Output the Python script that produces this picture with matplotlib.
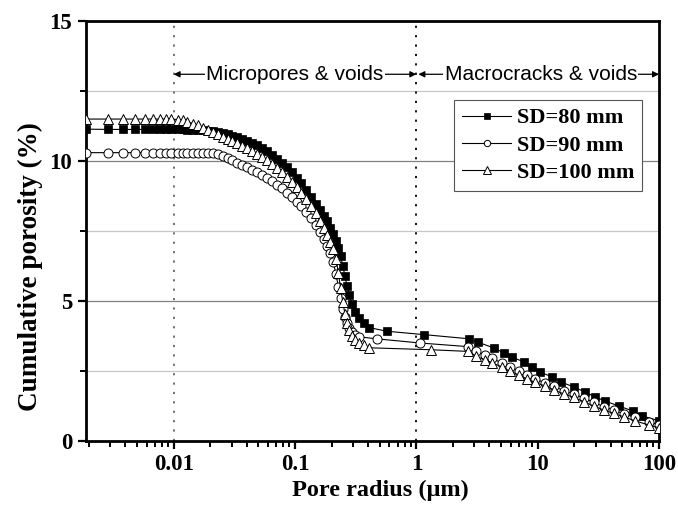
import numpy as np
import matplotlib.pyplot as plt
from matplotlib.ticker import FixedLocator, LogLocator, NullFormatter, FixedFormatter

# pore radius (um) and cumulative porosity (%)
r80 = [0.0019, 0.0029, 0.00386, 0.00485, 0.00576, 0.0067, 0.00766, 0.0086, 0.0096,
       0.0108, 0.0119, 0.013, 0.0144, 0.0158, 0.0174, 0.0191, 0.021, 0.023, 0.0253,
       0.0278, 0.0305, 0.0335, 0.0368, 0.0404, 0.0444, 0.0488, 0.0536, 0.0589, 0.0647,
       0.0711, 0.078, 0.0857, 0.0942, 0.103, 0.113, 0.124, 0.136, 0.148, 0.16, 0.172,
       0.184, 0.196, 0.207, 0.218, 0.228, 0.238, 0.248, 0.258, 0.268, 0.28, 0.295,
       0.315, 0.34, 0.37, 0.41, 0.575, 1.16, 2.74, 3.25, 4.33, 5.23, 6.1, 7.66, 8.9,
       10.4, 13.1, 15.5, 19.9, 24.5, 29.6, 35.8, 46.7, 61, 72.4, 100]
p80 = [11.14, 11.13, 11.13, 11.13, 11.13, 11.13, 11.13, 11.13, 11.13,
       11.13, 11.13, 11.12, 11.12, 11.11, 11.1, 11.08, 11.06, 11.03, 11.0,
       10.96, 10.91, 10.86, 10.8, 10.73, 10.65, 10.56, 10.46, 10.35, 10.22,
       10.08, 9.93, 9.77, 9.6, 9.41, 9.2, 8.97, 8.72, 8.47, 8.25, 8.05,
       7.85, 7.62, 7.4, 7.15, 6.9, 6.6, 6.25, 5.9, 5.55, 5.2, 4.9,
       4.6, 4.4, 4.2, 4.05, 3.92, 3.8, 3.65, 3.52, 3.33, 3.15, 3.0, 2.83, 2.65,
       2.47, 2.29, 2.11, 1.93, 1.75, 1.58, 1.43, 1.25, 1.07, 0.9, 0.72]

r90 = [0.0019, 0.0029, 0.00386, 0.00485, 0.00576, 0.0067, 0.00766, 0.0086, 0.0096,
       0.0108, 0.0119, 0.013, 0.0144, 0.0158, 0.0174, 0.0191, 0.021, 0.023, 0.0253,
       0.0278, 0.0305, 0.0335, 0.0368, 0.0404, 0.0444, 0.0488, 0.0536, 0.0589, 0.0647,
       0.0711, 0.078, 0.0857, 0.0942, 0.103, 0.113, 0.124, 0.136, 0.148, 0.16, 0.172,
       0.184, 0.196, 0.207, 0.218, 0.228, 0.238, 0.248, 0.258, 0.268, 0.28, 0.295,
       0.315, 0.34, 0.47, 1.08, 2.69, 3.13, 3.65, 4.17, 5.04, 5.87, 6.97, 8.11, 9.45,
       11.4, 13.6, 16.4, 19.9, 24.0, 29.0, 35.1, 42.5, 51.4, 63.4, 82.7, 100]
p90 = [10.3, 10.3, 10.3, 10.3, 10.3, 10.3, 10.3, 10.3, 10.3,
       10.3, 10.3, 10.3, 10.3, 10.3, 10.3, 10.29, 10.28, 10.25, 10.18,
       10.1, 10.02, 9.93, 9.85, 9.77, 9.69, 9.6, 9.5, 9.4, 9.28,
       9.15, 9.02, 8.87, 8.72, 8.55, 8.38, 8.18, 7.96, 7.72, 7.47, 7.22,
       6.96, 6.7, 6.38, 5.95, 5.5, 5.1, 4.72, 4.42, 4.2, 4.02, 3.9,
       3.8, 3.72, 3.65, 3.5, 3.37, 3.22, 3.08, 2.95, 2.8, 2.65, 2.5, 2.36, 2.22,
       2.08, 1.95, 1.8, 1.68, 1.53, 1.38, 1.23, 1.1, 0.97, 0.84, 0.68, 0.58]

r100 = [0.0019, 0.0029, 0.00386, 0.00485, 0.00576, 0.0067, 0.00766, 0.0086, 0.0096,
        0.0108, 0.0119, 0.013, 0.0144, 0.0158, 0.0174, 0.0191, 0.021, 0.023, 0.0253,
        0.0278, 0.0305, 0.0335, 0.0368, 0.0404, 0.0444, 0.0488, 0.0536, 0.0589, 0.0647,
        0.0711, 0.078, 0.0857, 0.0942, 0.103, 0.113, 0.124, 0.136, 0.148, 0.16, 0.172,
        0.184, 0.196, 0.207, 0.218, 0.228, 0.238, 0.248, 0.258, 0.268, 0.28, 0.295,
        0.315, 0.34, 0.37, 0.41, 1.33, 2.69, 3.13, 3.65, 4.17, 5.04, 5.87, 6.97, 8.11,
        9.45, 11.4, 13.6, 16.4, 19.9, 24.0, 29.0, 35.1, 42.5, 51.4, 63.4, 82.7, 100]
p100 = [11.5, 11.5, 11.5, 11.5, 11.5, 11.5, 11.5, 11.5, 11.5,
        11.48, 11.45, 11.4, 11.34, 11.27, 11.19, 11.11, 11.03, 10.95, 10.87,
        10.79, 10.71, 10.63, 10.54, 10.45, 10.35, 10.25, 10.14, 10.02, 9.9,
        9.76, 9.61, 9.44, 9.26, 9.06, 8.86, 8.64, 8.4, 8.13, 7.87, 7.6,
        7.35, 7.1, 6.85, 6.5, 6.0, 5.45, 4.95, 4.55, 4.22, 3.97, 3.76,
        3.6, 3.5, 3.42, 3.33, 3.26, 3.2, 3.02, 2.9, 2.8, 2.65, 2.5, 2.36, 2.22,
        2.1, 1.97, 1.83, 1.68, 1.56, 1.4, 1.25, 1.1, 0.99, 0.86, 0.72, 0.57, 0.47]

labels = ['SD=80 mm', 'SD=90 mm', 'SD=100 mm']
xticks = [0.01, 0.1, 1, 10, 100]
xticklabels = ['0.01', '0.1', '1', '10', '100']
yticks = [0, 5, 10, 15]

plt.rcParams['font.family'] = ['Liberation Serif', 'DejaVu Serif']
plt.rcParams['font.weight'] = 'bold'

fig = plt.figure(figsize=(6.78, 5.14), dpi=100)
ax = fig.add_axes([0.127, 0.142, 0.845, 0.817])

# horizontal grid, darker at majors
for yv in [2.5, 7.5, 12.5]:
    ax.axhline(yv, color='#c8c8c8', lw=0.9, zorder=0)
for yv in [5, 10]:
    ax.axhline(yv, color='#808080', lw=0.9, zorder=0)

ax.axvline(0.01, color='#666666', ls=(0, (1.2, 4)), lw=1.3, zorder=1)
ax.axvline(1, color='black', ls=(0, (1.2, 4)), lw=1.3, zorder=1)

ax.plot(r80, p80, '-', color='black', lw=0.8, marker='s', ms=5.5,
        mfc='black', mec='black', mew=0.5, label=labels[0], zorder=3)
ax.plot(r90, p90, '-', color='black', lw=0.8, marker='o', ms=6.5,
        mfc='white', mec='black', mew=0.7, label=labels[1], zorder=4)
ax.plot(r100, p100, '-', color='black', lw=0.8, marker='^', ms=7.5,
        mfc='white', mec='black', mew=0.7, label=labels[2], zorder=5)

ax.set_xscale('log')
ax.set_xlim(0.0019, 100)
ax.set_ylim(0, 15)

ax.xaxis.set_major_locator(FixedLocator(xticks))
ax.xaxis.set_major_formatter(FixedFormatter(xticklabels))
ax.xaxis.set_minor_locator(LogLocator(base=10, subs=np.arange(2, 10)))
ax.xaxis.set_minor_formatter(NullFormatter())
ax.yaxis.set_major_locator(FixedLocator(yticks))
ax.yaxis.set_minor_locator(FixedLocator([2.5, 7.5, 12.5]))

ax.tick_params(which='major', direction='out', length=6, width=1.6, labelsize=16.5)
ax.tick_params(axis='x', which='major', pad=3)
ax.tick_params(axis='y', which='major', pad=4)
ax.tick_params(which='minor', direction='out', length=4, width=1.4)
for s in ax.spines.values():
    s.set_linewidth(2)

ax.set_xlabel('Pore radius (μm)', fontsize=17.5, fontweight='bold')
ax.set_ylabel('Cumulative porosity (%)', fontsize=19.5, fontweight='bold')
ax.xaxis.set_label_coords(0.513, -0.093)
ax.yaxis.set_label_coords(-0.075, 0.415)

# region annotations
ya = 13.1
arr = dict(arrowstyle='<|-|>', color='black', lw=0.9, mutation_scale=9,
           shrinkA=0, shrinkB=0)
ax.annotate('', xy=(0.01, ya), xytext=(1, ya), arrowprops=arr, zorder=2)
ax.annotate('', xy=(1.04, ya), xytext=(100, ya), arrowprops=arr, zorder=2)
bb = dict(facecolor='white', edgecolor='none', pad=1)
ax.text(0.1, ya, 'Micropores & voids', ha='center', va='center', fontsize=15,
        family='Liberation Sans', fontweight='normal', bbox=bb, zorder=3)
ax.text(10.6, ya, 'Macrocracks & voids', ha='center', va='center', fontsize=15,
        family='Liberation Sans', fontweight='normal', bbox=bb, zorder=3)

leg = ax.legend(loc='upper right', bbox_to_anchor=(0.970, 0.812), fontsize=16,
                frameon=True, fancybox=False, framealpha=1, edgecolor='#555555',
                handlelength=2.2, handletextpad=0.25, labelspacing=0.3,
                borderpad=0.35, borderaxespad=0, markerscale=0.7)
leg.get_frame().set_linewidth(0.8)
leg.set_zorder(6)

fig.savefig('out.png', dpi=100)
